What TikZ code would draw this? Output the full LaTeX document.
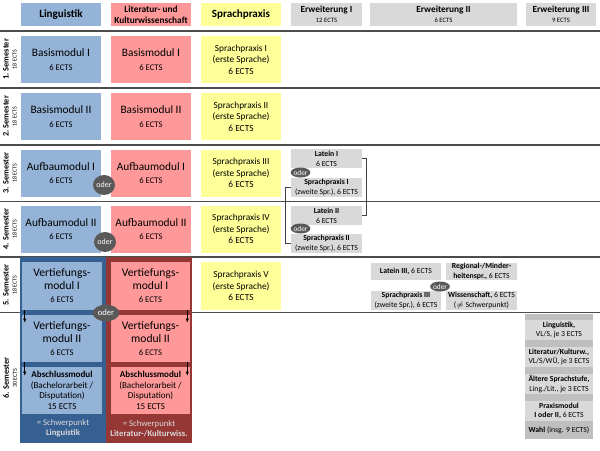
\documentclass[tikz,border=0pt]{standalone}
\usepackage{fontspec}
\setmainfont{Carlito}
\usepackage{xcolor}
\usepackage{tikz}
\usetikzlibrary{arrows.meta,shapes.geometric}
\definecolor{lingblue}{HTML}{95B3D7}
\definecolor{lingdark}{HTML}{376092}
\definecolor{litred}{HTML}{FF9999}
\definecolor{litdark}{HTML}{953735}
\definecolor{praxyellow}{HTML}{FFFF99}
\definecolor{extgray}{HTML}{D9D9D9}
\definecolor{extdark}{HTML}{BFBFBF}
\definecolor{odergray}{HTML}{595959}
\newcommand{\fsz}[2]{\fontsize{#1}{#2}\selectfont}
\newcommand{\ectsl}[1]{{\fsz{6.5}{7}#1 ECTS}}

\begin{document}
\begin{tikzpicture}[
  x=0.75pt, y=-0.75pt,
  box/.style={inner sep=0pt, align=center, minimum width=60pt, minimum height=35.25pt},
  ling/.style={box, fill=lingblue, font=\fsz{8.5}{10}},
  lit/.style={box, fill=litred, font=\fsz{8.5}{10}},
  prax/.style={box, fill=praxyellow, font=\fsz{7}{8.6}},
  head/.style={inner sep=0pt, align=center, minimum width=60pt, minimum height=17.25pt,
               font=\bfseries\fsz{8.3}{9}},
  erwhead/.style={head, fill=extgray, font=\bfseries\fsz{7}{7.5}},
  ext/.style={inner sep=0pt, align=center, fill=extgray, minimum width=53.25pt,
              minimum height=14.25pt, font=\fsz{5.8}{7.5}},
  stack/.style={ext, minimum width=51pt, minimum height=15pt, font=\fsz{5.8}{7}},
  frame/.style={inner sep=0pt, minimum width=64.5pt, minimum height=139.5pt},
  spk/.style={align=center, text=gray!30, font=\fsz{6.5}{7.5}},
  oder/.style={ellipse, fill=odergray, text=white, inner sep=0pt,
               minimum width=16.5pt, minimum height=15pt, font=\fsz{6}{6}},
  smalloder/.style={oder, minimum width=14pt, minimum height=7.5pt, font=\fsz{5.5}{5.5}},
  sem/.style={rotate=90, align=center, font=\bfseries\fsz{6.2}{6}},
  sep/.style={gray!60!black, line width=1.1pt},
  thinsep/.style={black!70, line width=0.6pt},
  arr/.style={-{Latex[length=3pt,width=2.5pt]}, line width=0.5pt},
  brk/.style={black!75, line width=0.5pt}
]
\path[use as bounding box, fill=white] (0,0) rectangle (600,450);
\foreach \y in {31,88,145,257} \draw[sep] (0,\y) -- (600,\y);
\foreach \y in {201,312} \draw[thinsep] (0,\y) -- (600,\y);

\node[head, fill=lingblue] (hling) at (61,14.5) {Linguistik};
\node[head, fill=litred, font=\bfseries\fsz{7}{8}] (hlit) at (151,14.5) {Literatur- und\\Kulturwissenschaft};
\node[head, fill=praxyellow] (hprax) at (241,14.5) {Sprachpraxis};
\node[erwhead, minimum width=53.25pt] (herw1) at (326.5,14.5) {Erweiterung I\\{\mdseries\fsz{5}{6}12 ECTS}};
\node[erwhead, minimum width=110.25pt] (herw2) at (443.5,14.5) {Erweiterung II\\{\mdseries\fsz{5}{6}6 ECTS}};
\node[erwhead, minimum width=52.5pt] (herw3) at (561,14.5) {Erweiterung III\\{\mdseries\fsz{5}{6}9 ECTS}};

\node[sem] (sem1) at (10,59.5) {1. Semester\\{\mdseries\fsz{4.5}{5}18 ECTS}};
\node[sem] (sem2) at (10,116.5) {2. Semester\\{\mdseries\fsz{4.5}{5}18 ECTS}};
\node[sem] (sem3) at (10,173) {3. Semester\\{\mdseries\fsz{4.5}{5}18 ECTS}};
\node[sem] (sem4) at (10,229) {4. Semester\\{\mdseries\fsz{4.5}{5}18 ECTS}};
\node[sem] (sem5) at (10,285) {5. Semester\\{\mdseries\fsz{4.5}{5}18 ECTS}};
\node[sem] (sem6) at (10,378) {6. Semester\\{\mdseries\fsz{4.5}{5}30 ECTS}};

\node[ling] (bm1l) at (61,59.5) {Basismodul I\\\ectsl{6}};
\node[lit] (bm1r) at (151,59.5) {Basismodul I\\\ectsl{6}};
\node[prax] (sp1) at (241,59.5) {Sprachpraxis I\\(erste Sprache)\\6 ECTS};
\node[ling] (bm2l) at (61,116.5) {Basismodul II\\\ectsl{6}};
\node[lit] (bm2r) at (151,116.5) {Basismodul II\\\ectsl{6}};
\node[prax] (sp2) at (241,116.5) {Sprachpraxis II\\(erste Sprache)\\6 ECTS};
\node[ling] (am1l) at (61,173) {Aufbaumodul I\\\ectsl{6}};
\node[lit] (am1r) at (151,173) {Aufbaumodul I\\\ectsl{6}};
\node[prax] (sp3) at (241,173) {Sprachpraxis III\\(erste Sprache)\\6 ECTS};
\node[ling] (am2l) at (61,229) {Aufbaumodul II\\\ectsl{6}};
\node[lit] (am2r) at (151,229) {Aufbaumodul II\\\ectsl{6}};
\node[prax] (sp4) at (241,229) {Sprachpraxis IV\\(erste Sprache)\\6 ECTS};
\node[oder] (or3) at (104,185) {oder};
\node[oder] (or4) at (105,242) {oder};

\node[frame, fill=lingdark] (fling) at (63,350) {};
\node[frame, fill=litdark] (flit) at (149,350) {};
\node[ling, minimum height=36pt, font=\fsz{8.7}{9.75}] (vt1l) at (62,286) {Vertiefungs-\\modul I\\\ectsl{6}};
\node[lit, minimum width=59.25pt, minimum height=36pt, font=\fsz{8.7}{9.75}] (vt1r) at (150.5,286) {Vertiefungs-\\modul I\\\ectsl{6}};
\node[ling, font=\fsz{8.7}{9.75}] (vt2l) at (62,338.5) {Vertiefungs-\\modul II\\\ectsl{6}};
\node[lit, minimum width=59.25pt, font=\fsz{8.7}{9.75}] (vt2r) at (150.5,338.5) {Vertiefungs-\\modul II\\\ectsl{6}};
\node[ling, font=\fsz{6.8}{7.9}] (abl) at (62,390.5) {\textbf{Abschlussmodul}\\(Bachelorarbeit /\\Disputation)\\15 ECTS};
\node[lit, minimum width=59.25pt, font=\fsz{6.8}{7.9}] (abr) at (150.5,390.5) {\textbf{Abschlussmodul}\\(Bachelorarbeit /\\Disputation)\\15 ECTS};
\node[spk] (spkl) at (63,428.5) {= Schwerpunkt\\\textbf{Linguistik}};
\node[spk] (spkr) at (149,428.5) {= Schwerpunkt\\\textbf{Literatur-/Kulturwiss.}};
\node[oder, minimum width=20pt, minimum height=12.5pt, font=\fsz{6.5}{6.5}] (or5) at (106,313) {oder};
\node[prax, minimum height=36pt] (sp5) at (241,286) {Sprachpraxis V\\(erste Sprache)\\6 ECTS};

\node[ext] (lat1) at (326.5,158.5) {\textbf{Latein I}\\6 ECTS};
\node[ext] (spz1) at (326.5,187.5) {\textbf{Sprachpraxis I}\\(zweite Spr.), 6 ECTS};
\node[ext] (lat2) at (326.5,215.5) {\textbf{Latein II}\\6 ECTS};
\node[ext] (spz2) at (326.5,243.5) {\textbf{Sprachpraxis II}\\(zweite Spr.), 6 ECTS};
\node[smalloder] (ore1) at (300.5,172.5) {oder};
\node[smalloder] (ore2) at (300.5,228.5) {oder};

\node[ext, minimum width=52.5pt, minimum height=12.75pt] (lat3) at (406,271.5) {\textbf{Latein III,} 6 ECTS};
\node[ext, minimum height=12.75pt, font=\fsz{5.8}{7}] (regio) at (481.5,271.5) {\textbf{Regional-/Minder-}\\\textbf{heitenspr.,} 6 ECTS};
\node[ext, minimum width=52.5pt] (spz3) at (406,300.5) {\textbf{Sprachpraxis III}\\(zweite Spr.), 6 ECTS};
\node[ext] (wiss) at (481.5,300.5) {\textbf{Wissenschaft,} 6 ECTS\\($\neq$ Schwerpunkt)};
\node[smalloder] (ore3) at (440,286.5) {oder};

\node[frame, fill=extdark, minimum width=51pt, minimum height=93.75pt] (erw3) at (559,376.5) {};
\node[stack] (ling3) at (559,330) {\textbf{Linguistik,}\\VL/S, je 3 ECTS};
\node[stack] (litk3) at (559,357) {\textbf{Literatur/Kulturw.,}\\VL/S/WÜ, je 3 ECTS};
\node[stack] (alt3) at (559,384) {\textbf{Ältere Sprachstufe,}\\Ling./Lit., je 3 ECTS};
\node[stack] (prax3) at (559,411) {\textbf{Praxismodul}\\\textbf{I oder II,} 6 ECTS};
\node[font=\fsz{5.8}{7}] (wahl) at (559,430.5) {\textbf{Wahl} (insg. 9 ECTS)};

\draw[brk] (lat1.east) -- ++(4.5,0) |- (lat2.east);
\draw[brk] (spz1.west) -- ++(-5,0) |- (spz2.west);
\draw[arr] ([xshift=2.25pt]vt1l.south west) -- ([xshift=2.25pt,yshift=-6pt]vt2l.north west);
\draw[arr] ([xshift=2.25pt]vt2l.south west) -- ([xshift=2.25pt,yshift=-6.75pt]abl.north west);
\draw[arr] ([xshift=-2.25pt]vt1r.south east) -- ([xshift=-2.25pt,yshift=-6pt]vt2r.north east);
\draw[arr] ([xshift=-2.25pt]vt2r.south east) -- ([xshift=-2.25pt,yshift=-6.75pt]abr.north east);
\end{tikzpicture}
\end{document}
